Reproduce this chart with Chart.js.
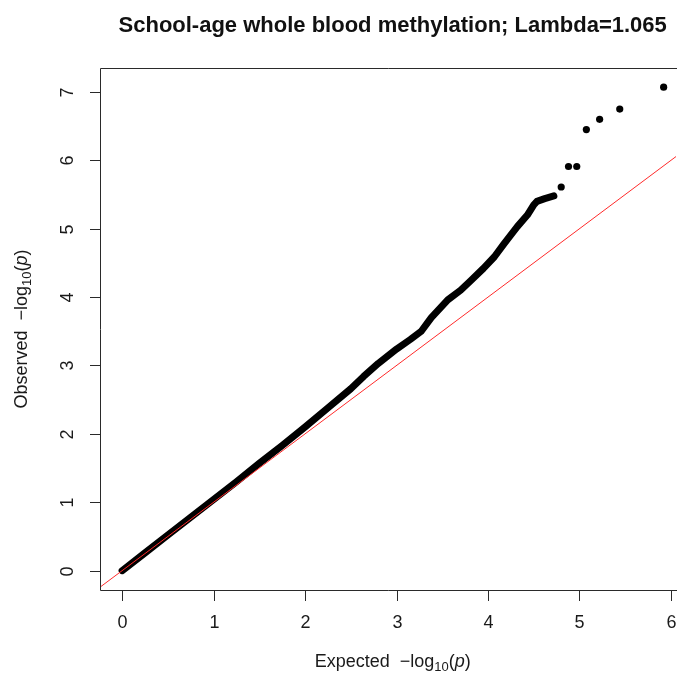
<!DOCTYPE html>
<html>
<head>
<meta charset="utf-8">
<script src="https://cdn.jsdelivr.net/npm/chart.js@4"></script>
<style>
  html, body { margin: 0; padding: 0; background: #fff; }
  #wrap { width: 680px; height: 673px; }
</style>
</head>
<body>
<div id="wrap"><canvas id="c" width="680" height="673"></canvas></div>
<script>
// ---- data ----
const titleText = "School-age whole blood methylation; Lambda=1.065";
const xTicks = [0, 1, 2, 3, 4, 5, 6];
const yTicks = [0, 1, 2, 3, 4, 5, 6, 7];
// dense part of the QQ curve (expected, observed)
const bandExpected = [0, 0.25, 0.5, 0.75, 1.0, 1.25, 1.5, 1.75, 2.0, 2.25, 2.5, 2.64, 2.8, 3.0, 3.15, 3.27, 3.38, 3.56, 3.7, 3.81, 3.95, 4.07, 4.17, 4.21, 4.32, 4.43, 4.50, 4.535, 4.62, 4.72];
const bandObserved = [0, 0.26, 0.52, 0.78, 1.04, 1.30, 1.57, 1.83, 2.10, 2.38, 2.66, 2.84, 3.03, 3.24, 3.38, 3.50, 3.70, 3.96, 4.10, 4.24, 4.42, 4.59, 4.77, 4.84, 5.03, 5.20, 5.35, 5.40, 5.44, 5.48];
// sparse top tail
const tailExpected = [4.80, 4.88, 4.97, 5.075, 5.22, 5.44, 5.92];
const tailObserved = [5.61, 5.91, 5.91, 6.45, 6.60, 6.75, 7.07];
// reference line y = a + b x
const refIntercept = 0, refSlope = 1;
const xLimits = [-0.242, 6.055];
const yLimits = [-0.283, 7.35];

const band = bandExpected.map((x, i) => ({ x, y: bandObserved[i] }));
const tail = tailExpected.map((x, i) => ({ x, y: tailObserved[i] }));
const refLine = xLimits.map(x => ({ x, y: refIntercept + refSlope * x }));

const FONT = '"Liberation Sans", Arial, Helvetica, sans-serif';
const TXT = '#1a1a1a';

function drawMathLabel(ctx, word, size) {
  const parts = [
    { t: word + '  \u2212log', f: `${size}px ${FONT}`, dy: 0 },
    { t: '10', f: `${Math.round(size * 0.7)}px ${FONT}`, dy: size * 0.3 },
    { t: '(', f: `${size}px ${FONT}`, dy: 0 },
    { t: 'p', f: `italic ${size}px ${FONT}`, dy: 0 },
    { t: ')', f: `${size}px ${FONT}`, dy: 0 }
  ];
  let total = 0;
  parts.forEach(p => { ctx.font = p.f; p.w = ctx.measureText(p.t).width; total += p.w; });
  let x = -total / 2;
  ctx.textAlign = 'left';
  ctx.textBaseline = 'middle';
  parts.forEach(p => { ctx.font = p.f; ctx.fillText(p.t, x, p.dy); x += p.w; });
}

const framePlugin = {
  id: 'frame',
  afterDraw(chart) {
    const ctx = chart.ctx, a = chart.chartArea;
    const xs = chart.scales.x, ys = chart.scales.y;
    ctx.save();
    ctx.strokeStyle = '#2a2a2a';
    ctx.lineWidth = 1;
    ctx.beginPath();
    ctx.moveTo(a.right + 1, Math.round(a.top) + 0.5);
    ctx.lineTo(Math.round(a.left) + 0.5, Math.round(a.top) + 0.5);
    ctx.lineTo(Math.round(a.left) + 0.5, Math.round(a.bottom) + 0.5);
    ctx.lineTo(a.right + 1, Math.round(a.bottom) + 0.5);
    ctx.stroke();
    // x ticks
    ctx.fillStyle = TXT;
    ctx.font = `18px ${FONT}`;
    ctx.textAlign = 'center';
    ctx.textBaseline = 'middle';
    xTicks.forEach(v => {
      const px = Math.round(xs.getPixelForValue(v)) + 0.5;
      ctx.beginPath();
      ctx.moveTo(px, Math.round(a.bottom) + 0.5);
      ctx.lineTo(px, Math.round(a.bottom) + 11);
      ctx.stroke();
      ctx.fillText(String(v), px, a.bottom + 33);
    });
    // y ticks
    yTicks.forEach(v => {
      const py = Math.round(ys.getPixelForValue(v)) + 0.5;
      ctx.beginPath();
      ctx.moveTo(Math.round(a.left) + 0.5, py);
      ctx.lineTo(Math.round(a.left) - 10, py);
      ctx.stroke();
      ctx.save();
      ctx.translate(a.left - 32, py);
      ctx.rotate(-Math.PI / 2);
      ctx.fillText(String(v), 0, 0);
      ctx.restore();
    });
    // title
    const regionCenter = (a.left + xs.getPixelForValue(6.157)) / 2;
    ctx.font = `bold 22px ${FONT}`;
    ctx.textAlign = 'center';
    ctx.fillStyle = '#111';
    ctx.fillText(titleText, regionCenter, 26);
    // axis titles
    ctx.fillStyle = TXT;
    ctx.save();
    ctx.translate(regionCenter, 662);
    drawMathLabel(ctx, 'Expected', 18);
    ctx.restore();
    ctx.save();
    ctx.translate(22, (a.top + a.bottom) / 2);
    ctx.rotate(-Math.PI / 2);
    drawMathLabel(ctx, 'Observed', 18);
    ctx.restore();
    ctx.restore();
  }
};

new Chart(document.getElementById('c'), {
  type: 'scatter',
  data: {
    datasets: [
      {
        type: 'line', data: refLine, borderColor: '#ff2a2a', borderWidth: 1,
        pointRadius: 0, fill: false, order: 0, tension: 0
      },
      {
        type: 'line', data: band, borderColor: '#000', borderWidth: 7,
        borderCapStyle: 'round', borderJoinStyle: 'round',
        pointRadius: 0, fill: false, order: 1, tension: 0
      },
      {
        type: 'scatter', data: tail, backgroundColor: '#000', borderColor: '#000',
        pointRadius: 3.6, borderWidth: 0, order: 2
      }
    ]
  },
  options: {
    responsive: false,
    animation: false,
    devicePixelRatio: 1,
    layout: { padding: { left: 100, top: 68, right: 0, bottom: 83 } },
    plugins: { legend: { display: false }, tooltip: { enabled: false }, title: { display: false } },
    scales: {
      x: { type: 'linear', min: xLimits[0], max: xLimits[1], display: false },
      y: { type: 'linear', min: yLimits[0], max: yLimits[1], display: false }
    }
  },
  plugins: [framePlugin]
});
</script>
</body>
</html>
